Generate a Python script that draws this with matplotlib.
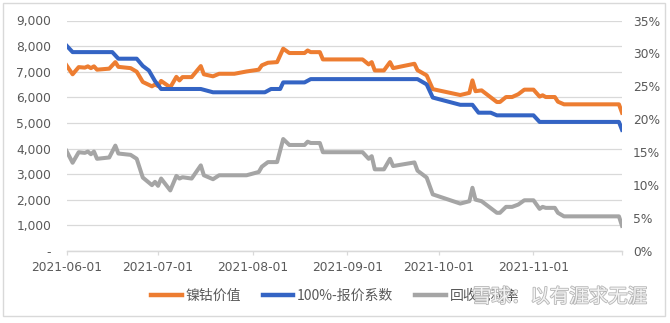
import matplotlib
matplotlib.use("Agg")
import matplotlib.pyplot as plt
import matplotlib.patheffects as pe
from matplotlib.patches import Rectangle
import pandas as pd

plt.rcParams['font.family'] = ['Noto Sans CJK SC', 'DejaVu Sans']

# ---- data ----
value_dates = ["2021-06-01", "2021-06-03", "2021-06-05", "2021-06-07", "2021-06-08", "2021-06-09",
               "2021-06-10", "2021-06-11", "2021-06-15", "2021-06-17", "2021-06-18", "2021-06-22",
               "2021-06-24", "2021-06-26", "2021-06-29", "2021-06-30", "2021-07-01", "2021-07-02",
               "2021-07-05", "2021-07-07", "2021-07-08", "2021-07-09", "2021-07-12", "2021-07-15",
               "2021-07-16", "2021-07-19", "2021-07-21", "2021-07-26", "2021-07-30", "2021-08-03",
               "2021-08-04", "2021-08-06", "2021-08-09", "2021-08-11", "2021-08-13", "2021-08-18",
               "2021-08-19", "2021-08-20", "2021-08-23", "2021-08-24", "2021-09-06", "2021-09-08",
               "2021-09-09", "2021-09-10", "2021-09-13", "2021-09-15", "2021-09-16", "2021-09-23",
               "2021-09-24", "2021-09-27", "2021-09-29", "2021-10-08", "2021-10-11", "2021-10-12",
               "2021-10-13", "2021-10-15", "2021-10-20", "2021-10-21", "2021-10-23", "2021-10-25",
               "2021-10-27", "2021-10-29", "2021-11-01", "2021-11-03", "2021-11-04", "2021-11-05",
               "2021-11-08", "2021-11-09", "2021-11-11", "2021-11-29", "2021-11-30"]
nickel_cobalt_value = [7250, 6900, 7180, 7160, 7210, 7140,
                       7210, 7080, 7120, 7375, 7190, 7140,
                       7000, 6600, 6430, 6500, 6440, 6640,
                       6390, 6800, 6660, 6790, 6790, 7220,
                       6900, 6820, 6920, 6920, 7010, 7080,
                       7250, 7350, 7375, 7900, 7730, 7730,
                       7830, 7765, 7765, 7480, 7480, 7285,
                       7375, 7050, 7050, 7375, 7140, 7311,
                       7060, 6857, 6320, 6090, 6175, 6662,
                       6240, 6272, 5817, 5817, 6012, 6012,
                       6120, 6300, 6300, 6030, 6080, 6012,
                       6012, 5830, 5727, 5727, 5400]
recovery_margin = [15.2, 13.4, 15.0, 14.9, 15.1, 14.7,
                   15.1, 14.0, 14.2, 16.0, 14.8, 14.6,
                   14.0, 11.15, 10.0, 10.5, 9.9, 11.0,
                   9.2, 11.4, 11.0, 11.2, 11.0, 13.0,
                   11.5, 10.9, 11.5, 11.5, 11.5, 12.0,
                   12.8, 13.5, 13.5, 17.0, 16.1, 16.1,
                   16.6, 16.4, 16.4, 15.0, 15.0, 14.0,
                   14.4, 12.4, 12.4, 14.0, 12.9, 13.45,
                   12.2, 11.15, 8.6, 7.2, 7.56, 9.6,
                   7.8, 7.56, 5.8, 5.8, 6.7, 6.7,
                   7.05, 7.7, 7.7, 6.4, 6.7, 6.55,
                   6.55, 5.8, 5.26, 5.26, 3.83]

coef_dates = ["2021-06-01", "2021-06-03", "2021-06-16", "2021-06-18", "2021-06-24", "2021-06-26",
              "2021-06-28", "2021-06-30", "2021-07-02", "2021-07-15", "2021-07-19", "2021-08-05",
              "2021-08-07", "2021-08-10", "2021-08-11", "2021-08-18", "2021-08-20", "2021-09-24",
              "2021-09-27", "2021-09-29", "2021-10-08", "2021-10-12", "2021-10-14", "2021-10-18",
              "2021-10-20", "2021-11-01", "2021-11-03", "2021-11-29", "2021-11-30"]
price_coef = [31.2, 30.2, 30.2, 29.2, 29.2, 28.1,
              27.4, 25.8, 24.6, 24.6, 24.1, 24.1,
              24.6, 24.6, 25.6, 25.6, 26.1, 26.1,
              25.3, 23.3, 22.2, 22.2, 21.0, 21.0,
              20.6, 20.6, 19.6, 19.6, 18.4]

x_tick_dates = ["2021-06-01", "2021-07-01", "2021-08-01", "2021-09-01", "2021-10-01", "2021-11-01"]
series_names = ["镍钴价值", "100%-报价系数", "回收毛利率"]

# ---- styling ----
ORANGE = "#ED7D31"
BLUE = "#3464C4"
GRAY = "#A5A5A5"
GRID = "#D9D9D9"
TXT = "#595959"
NUM_FONT = ['DejaVu Sans']

fig = plt.figure(figsize=(6.70, 3.23), dpi=100)
fig.patches.append(Rectangle((3 / 670, 1 - 316 / 323), 662 / 670, 313 / 323,
                             transform=fig.transFigure, fill=False,
                             edgecolor=GRID, linewidth=1.0))

ax = fig.add_axes([66.5 / 670, 1 - 251 / 323, (622 - 66.5) / 670, (251 - 20.5) / 323])
ax2 = ax.twinx()

vd = pd.to_datetime(value_dates)
cd = pd.to_datetime(coef_dates)

l1, = ax.plot(vd, nickel_cobalt_value, color=ORANGE, lw=2.9, solid_joinstyle='round', zorder=3)
l2, = ax2.plot(cd, price_coef, color=BLUE, lw=2.9, solid_joinstyle='round', zorder=3)
l3, = ax2.plot(vd, recovery_margin, color=GRAY, lw=2.9, solid_joinstyle='round', zorder=3)

ax.set_ylim(0, 9000)
ax2.set_ylim(0, 35)
ax.set_yticks(range(0, 9001, 1000))
ax.set_yticklabels(["-" if v == 0 else f"{v:,}" for v in range(0, 9001, 1000)])
ax2.set_yticks(range(0, 36, 5))
ax2.set_yticklabels([f"{v}%" for v in range(0, 36, 5)])

ax.set_xlim(pd.Timestamp("2021-06-01"), pd.Timestamp("2021-11-30"))
xt = list(pd.to_datetime(x_tick_dates)) + [pd.Timestamp("2021-11-30")]
ax.set_xticks(xt)
ax.set_xticklabels(x_tick_dates + [""])

ax.grid(axis='y', color=GRID, lw=0.9)
ax.set_axisbelow(True)
for a in (ax, ax2):
    for s in ("top", "left", "right"):
        a.spines[s].set_visible(False)
    a.spines["bottom"].set_color(GRID)
    a.spines["bottom"].set_linewidth(0.9)
ax.tick_params(axis='y', length=0, pad=11, labelsize=8.8, labelcolor=TXT)
ax2.tick_params(axis='y', length=0, pad=8, labelsize=8.8, labelcolor=TXT)
ax.tick_params(axis='x', length=3, width=0.9, color=GRID, pad=4, labelsize=8.8, labelcolor=TXT)
for lab in ax.get_xticklabels() + ax.get_yticklabels() + ax2.get_yticklabels():
    lab.set_family(NUM_FONT)

leg = fig.legend([l1, l2, l3], series_names, loc='center', ncol=3,
                 bbox_to_anchor=(0.500, 1 - 296 / 323), frameon=False,
                 fontsize=10, handlelength=2.2, handletextpad=0.25, columnspacing=1.6,
                 labelcolor=TXT)
for h in leg.legend_handles:
    h.set_linewidth(3.2)

wm = fig.text(472 / 670, 1 - 297 / 323, "雪球：以有涯求无涯", fontsize=14, color="#F4F4F4",
              ha='left', va='center', zorder=10)
wm.set_path_effects([pe.withStroke(linewidth=1.2, foreground="#B5B5B5")])

fig.savefig("out.png", dpi=100)
